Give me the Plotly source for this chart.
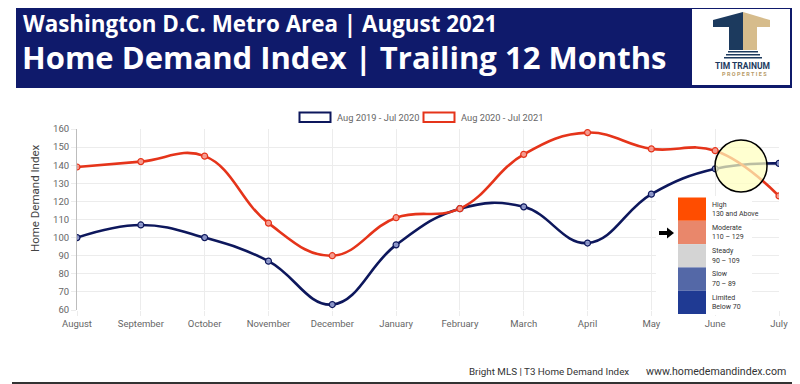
import plotly.graph_objects as go

months = ["August", "September", "October", "November", "December", "January",
          "February", "March", "April", "May", "June", "July"]
series_2019 = [100, 107, 100, 87, 63, 96, 116, 117, 97, 124, 138, 141]
series_2020 = [139, 142, 145, 108, 90, 111, 116, 146, 158, 149, 148, 123]
name_2019 = "Aug 2019 - Jul 2020"
name_2020 = "Aug 2020 - Jul 2021"
y_ticks = [60, 70, 80, 90, 100, 110, 120, 130, 140, 150, 160]
scale_labels = [("High", "130 and Above", "#ff4d00"),
                ("Moderate", "110 – 129", "#e9876b"),
                ("Steady", "90 – 109", "#d4d4d4"),
                ("Slow", "70 – 89", "#5468a7"),
                ("Limited", "Below 70", "#1f3a93")]

W, H = 800, 384
OFF = 8  # page body margin
# plot area in page pixels
PL, PR, PT, PB = 77, 779, 129, 310
PW, PH = PR - PL, PB - PT

def px(x):
    return (x - PL) / PW

def py(y):
    return (PB - y) / PH

NAVY = "#0d175c"
RED = "#e5341a"

fig = go.Figure()
fig.add_trace(go.Scatter(
    x=list(range(len(months))), y=series_2019, mode="lines+markers",
    line=dict(color=NAVY, width=2.6, shape="spline", smoothing=1.2),
    marker=dict(size=6, color="rgba(150,160,210,0.9)", line=dict(color=NAVY, width=1.2)),
    name=name_2019, showlegend=False))
fig.add_trace(go.Scatter(
    x=list(range(len(months))), y=series_2020, mode="lines+markers",
    line=dict(color=RED, width=2.6, shape="spline", smoothing=1.2),
    marker=dict(size=6, color="rgba(245,160,150,0.95)", line=dict(color=RED, width=1.2)),
    name=name_2020, showlegend=False))

shapes = []
ann = []

def text(t, x, y, size, color, family="Roboto", xanchor="left", weight="normal", angle=0):
    ann.append(dict(text=t, x=px(x), y=py(y), xref="paper", yref="paper",
                    xanchor=xanchor, yanchor="middle", showarrow=False, textangle=angle,
                    font=dict(family=family, size=size, color=color, weight=weight)))

# header
shapes.append(dict(type="rect", xref="paper", yref="paper", x0=px(16), x1=px(793),
                   y0=py(88), y1=py(5), fillcolor="#0f1a6b", line=dict(width=0), layer="above"))
text("Washington D.C. Metro Area | August 2021", 21, 23.2, 22.4, "white", family="Open Sans", weight="bold")
text("Home Demand Index | Trailing 12 Months", 20, 56.5, 31, "white", family="Open Sans", weight="bold")

# logo
LNAVY, LTAN = "#1c3a5e", "#d6bc8c"
shapes.append(dict(type="rect", xref="paper", yref="paper", x0=px(692), x1=px(790),
                   y0=py(85), y1=py(9), fillcolor="white", line=dict(width=0), layer="above"))
def poly(pts, color):
    d = "M " + " L ".join(f"{px(a)},{py(b)}" for a, b in pts) + " Z"
    return dict(type="path", xref="paper", yref="paper", path=d, fillcolor=color,
                line=dict(width=0), layer="above")
shapes.append(poly([(713, 20), (743, 12), (743, 27), (713, 27)], LNAVY))
shapes.append(poly([(729, 27), (743, 27), (743, 50), (729, 50)], LNAVY))
shapes.append(poly([(743, 12), (770, 20), (770, 27), (743, 27)], LTAN))
shapes.append(poly([(743, 27), (757, 27), (757, 50), (743, 50)], LTAN))
for i, (a, b) in enumerate([(728, 758), (726, 760), (724, 762)]):
    shapes.append(poly([(a, 51 + 3 * i), (b, 51 + 3 * i), (b, 52.5 + 3 * i), (a, 52.5 + 3 * i)], LNAVY))
text("TIM TRAINUM", 742, 66, 8.5, LNAVY, xanchor="center", weight="bold")
text("P R O P E R T I E S", 744, 74.5, 5.5, "#b89b68", xanchor="center", weight="bold")

# legend
for (x0, col, label) in [(299.5, NAVY, name_2019), (423.5, RED, name_2020)]:
    shapes.append(dict(type="rect", xref="paper", yref="paper", x0=px(x0), x1=px(x0 + 31),
                       y0=py(122), y1=py(112.5), fillcolor="white", line=dict(color=col, width=2)))
    text(label, x0 + 35, 117.5, 9.3, "#666666")

# y-axis title
text("Home Demand Index", 35, 198, 11.5, "#444444", xanchor="center", angle=-90)

# highlight circle
shapes.append(dict(type="circle", xref="paper", yref="paper", x0=px(715), x1=px(767),
                   y0=py(192), y1=py(140), fillcolor="rgba(255,255,190,0.72)",
                   line=dict(color="black", width=1.5), layer="above"))

# scale legend
shapes.append(dict(type="rect", xref="paper", yref="paper", x0=px(656), x1=px(752),
                   y0=py(315), y1=py(196), fillcolor="white", line=dict(width=0), layer="above"))
top, bh = 197.5, 23.3
for i, (t1, t2, col) in enumerate(scale_labels):
    y0 = top + i * bh
    shapes.append(dict(type="rect", xref="paper", yref="paper", x0=px(678), x1=px(706),
                       y0=py(y0 + bh), y1=py(y0), fillcolor=col, line=dict(width=0), layer="above"))
    text(t1, 710, y0 + 7, 7, "#333333")
    text(t2, 710, y0 + 16.5, 7, "#333333")
shapes.append(poly([(659, 231), (667, 231), (667, 227.5), (674, 233), (667, 238.5), (667, 235), (659, 235)], "black"))

# footer
text("Bright MLS | T3 Home Demand Index", 467, 371, 9.8, "#333333")
text("www.homedemandindex.com", 644, 371, 10.6, "#333333")
shapes.append(dict(type="rect", xref="paper", yref="paper", x0=px(12), x1=px(800),
                   y0=py(384), y1=py(382), fillcolor="#333333", line=dict(width=0), layer="above"))

fig.update_layout(
    width=W, height=H,
    margin=dict(l=PL - OFF, r=W - (PR - OFF), t=PT - OFF, b=H - (PB - OFF), autoexpand=False),
    paper_bgcolor="white", plot_bgcolor="white", showlegend=False,
    shapes=shapes, annotations=ann,
    xaxis=dict(range=[0, 11], tickmode="array", tickvals=list(range(len(months))), ticktext=months,
               showgrid=True, gridcolor="#ececec", gridwidth=1, zeroline=False,
               ticks="outside", ticklen=5, tickcolor="#ececec",
               tickfont=dict(family="Roboto", size=9.5, color="#666666"), automargin=False),
    yaxis=dict(range=[60, 160], tickvals=y_ticks, showgrid=True, gridcolor="#ececec", gridwidth=1,
               zeroline=False, showline=True, linecolor="#bdbdbd", linewidth=1,
               ticks="outside", ticklen=5, tickcolor="#ececec",
               tickfont=dict(family="Roboto", size=9.5, color="#666666"), automargin=False),
)
fig.write_html("out.html")
